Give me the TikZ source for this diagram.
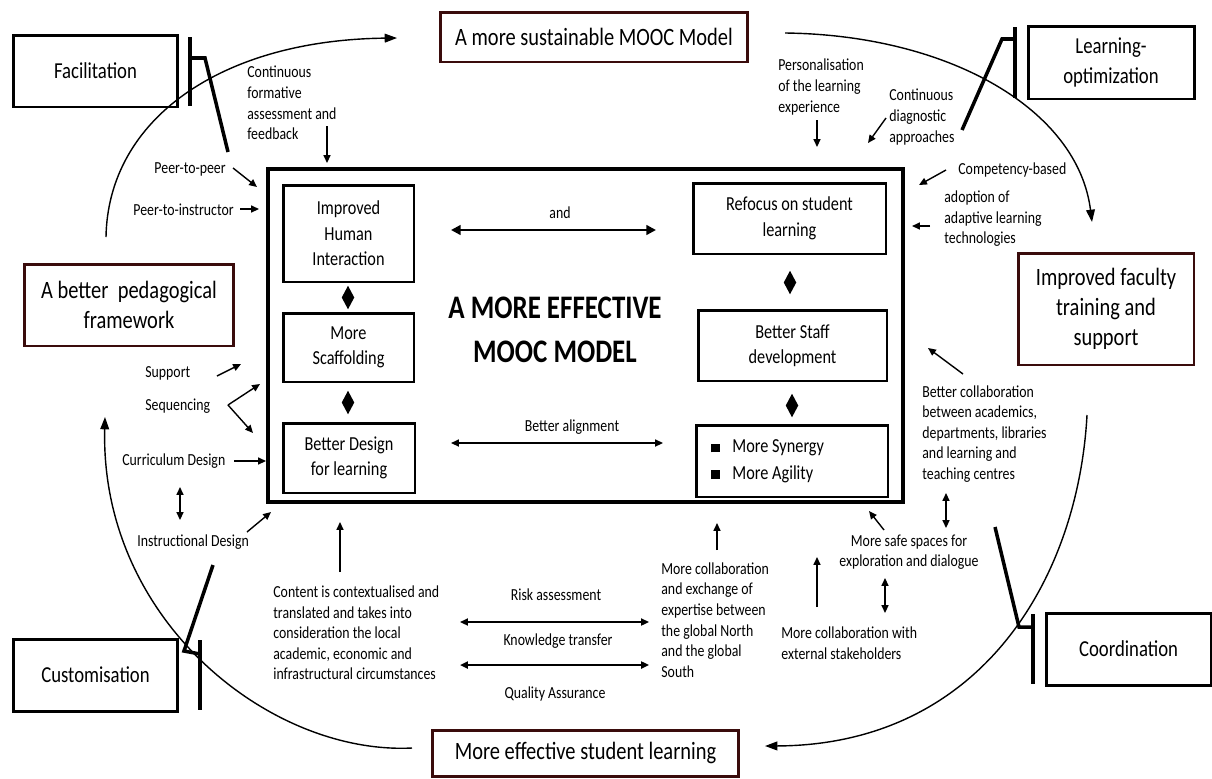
\documentclass[tikz,border=0pt]{standalone}
\usepackage{fontspec}
\setmainfont{Carlito}[FakeStretch=0.82]
\usetikzlibrary{arrows.meta,shapes.geometric}
\definecolor{boxbrown}{RGB}{58,12,12}
\begin{document}
\begin{tikzpicture}[x=0.02cm,y=-0.02cm,
  sm/.style={font=\fontsize{9.6}{11.7}\selectfont, inner sep=0pt, align=left},
  inbox/.style={draw, line width=1.7pt, outer sep=0pt, inner sep=0pt, align=center,
    font=\fontsize{11.3}{14.5}\selectfont},
  cornerbox/.style={draw, line width=1.7pt, outer sep=0pt, inner sep=0pt, align=center,
    font=\fontsize{13}{17}\selectfont},
  brownbox/.style={draw=boxbrown, line width=1.7pt, outer sep=0pt, inner sep=0pt, align=center,
    font=\fontsize{14.2}{17}\selectfont},
  forkline/.style={line width=2pt},
  loopline/.style={line width=0.8pt, -{Triangle[length=7pt,width=5pt]}},
  sarrow/.style={line width=0.8pt, -{Triangle[length=4.5pt,width=4pt]}},
  darrow/.style={line width=0.8pt, {Triangle[length=4.5pt,width=4pt]}-{Triangle[length=4.5pt,width=4pt]}},
  wide/.style={line width=1.3pt, {Triangle[length=5.5pt,width=5.5pt]}-{Triangle[length=5.5pt,width=5.5pt]}},
  diam/.style={diamond, fill=black, inner sep=0pt, outer sep=0pt, minimum width=0.25cm, minimum height=0.47cm}
]
\useasboundingbox[fill=white] (0,0) rectangle (1212,778);

% outer frame and the central model
\node[draw, line width=2pt, outer sep=0pt, minimum width=12.7cm, minimum height=6.66cm] (frame) at (585.5,335.5) {};
\node[font=\fontsize{18.7}{25}\selectfont\bfseries, align=center] (title) at (555,330) {A MORE EFFECTIVE\\MOOC MODEL};

\node[inbox, minimum width=2.62cm, minimum height=1.94cm] (ihi) at (348.5,233.5) {Improved\\Human\\Interaction};
\node[inbox, minimum width=2.62cm, minimum height=1.38cm] (scaf) at (348.5,347.5) {More\\Scaffolding};
\node[inbox, minimum width=2.64cm, minimum height=1.40cm] (bdl) at (349,458) {Better Design\\for learning};
\node[inbox, minimum width=3.86cm, minimum height=1.42cm] (ref) at (789.5,218.5) {Refocus on student\\learning};
\node[inbox, minimum width=3.78cm, minimum height=1.42cm] (bsd) at (792.5,345.5) {Better Staff\\development};
\node[inbox, minimum width=3.84cm, minimum height=1.44cm] (syn) at (792,461) {};
\node[anchor=west, align=left, inner sep=0pt, font=\fontsize{11.3}{15.3}\selectfont] (synt) at (711,461)
  {\rule{5pt}{5pt}\hspace{7pt}More Synergy\\\rule{5pt}{5pt}\hspace{7pt}More Agility};

% diamonds between the stacked boxes
\node[diam] (d1) at (348,297.5) {};
\node[diam] (d2) at (348,402.5) {};
\node[diam] (d3) at (790,282.5) {};
\node[diam] (d4) at (792,405.5) {};

% links across the model
\node[sm] (and) at (560,213) {and};
\coordinate (andL) at (451,230); \coordinate (andR) at (656,230);
\draw[wide] (andL) -- (andR);
\node[sm] (balign) at (572,427) {Better alignment};
\coordinate (baL) at (451,443); \coordinate (baR) at (663,443);
\draw[darrow, line width=0.9pt] (baL) -- (baR);

% outcome boxes
\node[brownbox, minimum width=6.16cm, minimum height=1.0cm] (sus) at (594,37) {A more sustainable MOOC Model};
\node[brownbox, minimum width=3.52cm, minimum height=2.24cm] (ift) at (1106,309) {Improved faculty\\training and\\support};
\node[brownbox, minimum width=4.2cm, minimum height=1.64cm] (ped) at (129,305) {A better\ \ pedagogical\\framework};
\node[brownbox, minimum width=6.14cm, minimum height=0.92cm] (mesl) at (585.5,753) {More effective student learning};

% process boxes
\node[cornerbox, minimum width=3.30cm, minimum height=1.44cm] (fac) at (95.5,71) {Facilitation};
\node[cornerbox, minimum width=3.32cm, minimum height=1.46cm] (lo) at (1111,62.5) {Learning-\\optimization};
\node[cornerbox, minimum width=3.30cm, minimum height=1.44cm] (cus) at (95.5,675) {Customisation};
\node[cornerbox, minimum width=3.30cm, minimum height=1.44cm] (coo) at (1128.5,649) {Coordination};

% brackets from the process boxes
\draw[forkline] (190,37) -- (190,106);
\draw[forkline] (190,58) -- (205,58) -- (228,152);
\draw[forkline] (1015,27) -- (1015,98);
\draw[forkline] (1015,39) -- (1002,39) -- (962,130);
\draw[forkline] (200,640) -- (200,710);
\draw[forkline] (200,654) -- (184,651) -- (213,565);
\draw[forkline] (1033,614) -- (1033,684);
\draw[forkline] (1033,627) -- (1019,627) -- (995,527);

% the cycle around the model
\coordinate (c1a) at (106,237); \coordinate (c1b) at (397,38);
\draw[loopline] (c1a) .. controls (108,120) and (220,40) .. (c1b);
\coordinate (c2a) at (785,33); \coordinate (c2b) at (1092,222);
\draw[loopline] (c2a) .. controls (950,35) and (1078,110) .. (c2b);
\coordinate (c3a) at (1087,415); \coordinate (c3b) at (765,746);
\draw[loopline] (c3a) .. controls (1078,580) and (980,745) .. (c3b);
\coordinate (c4a) at (412,748); \coordinate (c4b) at (105,417);
\draw[loopline] (c4a) .. controls (270,755) and (100,620) .. (c4b);

% top left inputs
\node[sm, anchor=west] (cfa) at (247,103) {Continuous\\formative\\assessment and\\feedback};
\coordinate (cfa1) at (327,126); \coordinate (cfa2) at (327,163);
\draw[sarrow] (cfa1) -- (cfa2);
\node[sm, anchor=east] (p2p) at (226,169) {Peer-to-peer};
\coordinate (p2p1) at (233,168); \coordinate (p2p2) at (257,187);
\draw[sarrow] (p2p1) -- (p2p2);
\node[sm, anchor=east] (p2i) at (234,210) {Peer-to-instructor};
\coordinate (p2i1) at (240,209); \coordinate (p2i2) at (259,209);
\draw[sarrow] (p2i1) -- (p2i2);

% top right inputs
\node[sm, anchor=west] (pers) at (778,87) {Personalisation\\of the learning\\experience};
\coordinate (pers1) at (817,120); \coordinate (pers2) at (817,147);
\draw[sarrow] (pers1) -- (pers2);
\node[sm, anchor=west] (cdiag) at (889,117) {Continuous\\diagnostic\\approaches};
\coordinate (cd1) at (886,118); \coordinate (cd2) at (868,143);
\draw[sarrow] (cd1) -- (cd2);
\node[sm, anchor=west] (comp) at (958,170) {Competency-based};
\coordinate (cb1) at (946,170); \coordinate (cb2) at (919,185);
\draw[sarrow] (cb1) -- (cb2);
\node[sm, anchor=west] (adopt) at (944,219) {adoption of\\adaptive learning\\technologies};
\coordinate (ad1) at (930,226); \coordinate (ad2) at (912,226);
\draw[sarrow] (ad1) -- (ad2);

% left inputs
\node[sm, anchor=west] (supp) at (145,373) {Support};
\coordinate (su1) at (217,376); \coordinate (su2) at (241,364);
\draw[sarrow] (su1) -- (su2);
\node[sm, anchor=west] (seq) at (145,406) {Sequencing};
\coordinate (sq0) at (228,405); \coordinate (sq1) at (260,384); \coordinate (sq2) at (253,433);
\draw[sarrow] (sq0) -- (sq1);
\draw[sarrow] (sq0) -- (sq2);
\node[sm, anchor=west] (curr) at (122,461) {Curriculum Design};
\coordinate (cu1) at (234,461); \coordinate (cu2) at (266,461);
\draw[sarrow] (cu1) -- (cu2);
\coordinate (ci1) at (180,487); \coordinate (ci2) at (180,520);
\draw[darrow] (ci1) -- (ci2);
\node[sm, anchor=west] (instr) at (137,542) {Instructional Design};
\coordinate (in1) at (247,532); \coordinate (in2) at (271,512);
\draw[sarrow] (in1) -- (in2);

% bottom inputs
\coordinate (ct1) at (340,572); \coordinate (ct2) at (340,522);
\draw[sarrow] (ct1) -- (ct2);
\node[sm, anchor=west] (content) at (273,633) {Content is contextualised and\\translated and takes into\\consideration the local\\academic, economic and\\infrastructural circumstances};
\node[sm] (risk) at (556,595) {Risk assessment};
\coordinate (rk1) at (460,622); \coordinate (rk2) at (649,622);
\draw[darrow, line width=1pt] (rk1) -- (rk2);
\node[sm] (know) at (558,641) {Knowledge transfer};
\coordinate (kt1) at (460,665); \coordinate (kt2) at (649,665);
\draw[darrow, line width=1.3pt] (kt1) -- (kt2);
\node[sm] (qa) at (555,694) {Quality Assurance};
\node[sm, anchor=west] (mcoll) at (661,620) {More collaboration\\and exchange of\\expertise between\\the global North\\and the global\\South};
\coordinate (mc1) at (717,550); \coordinate (mc2) at (717,523);
\draw[sarrow] (mc1) -- (mc2);
\node[sm, anchor=west] (ext) at (781,643) {More collaboration with\\external stakeholders};
\coordinate (ex1) at (817,607); \coordinate (ex2) at (817,557);
\draw[sarrow] (ex1) -- (ex2);
\node[sm, align=center] (safe) at (909,552) {More safe spaces for\\exploration and dialogue};
\coordinate (es1) at (885,578); \coordinate (es2) at (885,613);
\draw[darrow] (es1) -- (es2);
\coordinate (sf1) at (884,530); \coordinate (sf2) at (869,511);
\draw[sarrow] (sf1) -- (sf2);

% right inputs
\node[sm, anchor=west] (bcoll) at (922,434) {Better collaboration\\between academics,\\departments, libraries\\and learning and\\teaching centres};
\coordinate (bs1) at (946,493); \coordinate (bs2) at (946,528);
\draw[darrow] (bs1) -- (bs2);
\coordinate (bc1) at (963,374); \coordinate (bc2) at (928,348);
\draw[sarrow] (bc1) -- (bc2);
\end{tikzpicture}
\end{document}
